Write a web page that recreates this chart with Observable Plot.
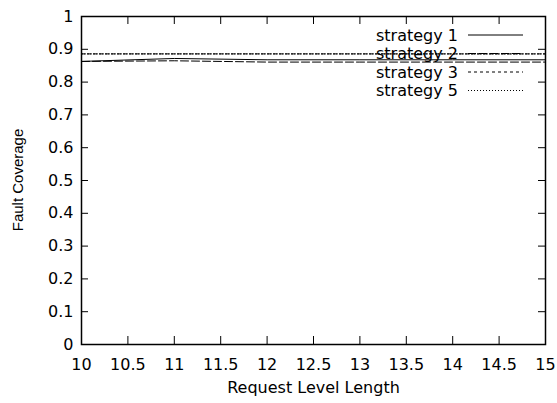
<!DOCTYPE html>
<html>
<head>
<meta charset="utf-8">
<script src="https://cdn.jsdelivr.net/npm/d3@7"></script>
<script src="https://cdn.jsdelivr.net/npm/@observablehq/plot@0.6"></script>
<style>
  html, body { margin: 0; padding: 0; background: #fff; }
</style>
</head>
<body>
<div id="chart"></div>
<script>
// ---- data ----
const xValues = [10, 11, 12, 13, 14, 15];
const strategy1 = [0.863, 0.872, 0.868, 0.868, 0.868, 0.868];
const strategy2 = [0.863, 0.865, 0.861, 0.861, 0.861, 0.861];
const strategy3 = [0.886, 0.886, 0.886, 0.886, 0.886, 0.886];
const strategy5 = [0.886, 0.886, 0.886, 0.886, 0.886, 0.886];
const seriesNames = ["strategy 1", "strategy 2", "strategy 3", "strategy 5"];
const xTicks = [10, 10.5, 11, 11.5, 12, 12.5, 13, 13.5, 14, 14.5, 15];
const xTickLabels = ["10", "10.5", "11", "11.5", "12", "12.5", "13", "13.5", "14", "14.5", "15"];
const yTicks = [0, 0.1, 0.2, 0.3, 0.4, 0.5, 0.6, 0.7, 0.8, 0.9, 1];
const yTickLabels = ["0", "0.1", "0.2", "0.3", "0.4", "0.5", "0.6", "0.7", "0.8", "0.9", "1"];
const xTitle = "Request Level Length";
const yTitle = "Fault Coverage";

// ---- layout / style ----
const W = 557, H = 403;
const mL = 81, mR = 12, mT = 16, mB = 59;
const fw = W - mL - mR, fh = H - mT - mB;
const dashes = [null, "8,3", "3,3", "1,2"];
const seriesValues = [strategy1, strategy2, strategy3, strategy5];

const rows = seriesValues.map((vals, i) =>
  xValues.map((x, j) => ({series: seriesNames[i], x, y: vals[j]})));

const font = "DejaVu Sans";

const chart = Plot.plot({
  width: W, height: H,
  marginLeft: mL, marginRight: mR, marginTop: mT, marginBottom: mB,
  style: {fontFamily: font, fontSize: "16px", background: "#fff", color: "#000"},
  x: {domain: [10, 15], label: null},
  y: {domain: [0, 1], label: null},
  marks: [
    // inward ticks on all four sides
    Plot.tickX(xTicks, {x: d => d, insetTop: fh - 8, stroke: "black", strokeWidth: 1}),
    Plot.tickX(xTicks, {x: d => d, insetBottom: fh - 8, stroke: "black", strokeWidth: 1}),
    Plot.tickY(yTicks, {y: d => d, insetRight: fw - 7, stroke: "black", strokeWidth: 1}),
    Plot.tickY(yTicks, {y: d => d, insetLeft: fw - 7, stroke: "black", strokeWidth: 1}),
    Plot.axisX({ticks: xTicks, tickSize: 0, tickPadding: 14, tickFormat: (d, i) => xTickLabels[i], label: null, fontSize: 16, fill: "black"}),
    Plot.axisY({ticks: yTicks, tickSize: 0, tickPadding: 8, tickFormat: (d, i) => yTickLabels[i], label: null, fontSize: 16, fill: "black"}),
    // series lines
    ...rows.map((r, i) => Plot.line(r, {x: "x", y: "y", stroke: "black", strokeWidth: 1,
      strokeDasharray: dashes[i] || undefined})),
    // x axis title
    Plot.text([xTitle], {frameAnchor: "bottom", dy: 48, text: d => d, fontSize: 16, fill: "black"}),
    Plot.frame({stroke: "black", strokeWidth: 1.5})
  ]
});

document.getElementById("chart").appendChild(chart);

const svg = d3.select(chart);

// ---- y axis title ----
svg.append("text")
  .attr("transform", `translate(18,${mT + fh / 2}) rotate(-90)`)
  .attr("text-anchor", "middle").attr("dy", "0.35em")
  .attr("font-family", "Liberation Sans").attr("font-size", 15)
  .attr("fill", "black").text(yTitle);

// ---- legend (inside top-right) ----
const lg = svg.append("g").attr("font-family", font).attr("font-size", 16);
seriesNames.forEach((name, i) => {
  const cy = 35 + i * 18.5;
  lg.append("text").attr("x", 458).attr("y", cy).attr("dy", "0.35em")
    .attr("text-anchor", "end").attr("fill", "black").text(name);
  const ln = lg.append("line").attr("x1", 468).attr("x2", 523).attr("y1", cy).attr("y2", cy)
    .attr("stroke", "black").attr("stroke-width", 1);
  if (dashes[i]) ln.attr("stroke-dasharray", dashes[i]);
});
</script>
</body>
</html>
